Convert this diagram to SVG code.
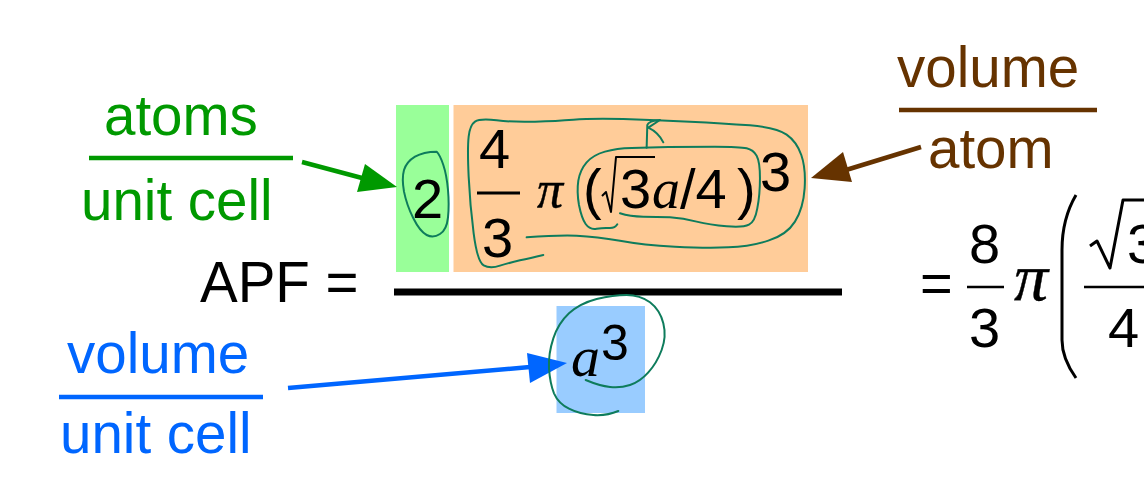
<svg xmlns="http://www.w3.org/2000/svg" width="1144" height="495" viewBox="0 0 1144 495">
<style>
text{font-family:"Liberation Sans",Arial,sans-serif;font-size:56px;fill:#000}
.label{font-size:56.500px}
.it{font-family:"Liberation Serif","Times New Roman",serif;font-style:italic}
.pi{stroke:#000;stroke-width:.4}
.g{fill:#009900}.b{fill:#0066ff}.br{fill:#663300}
.ink{fill:none;stroke:#0e7c5c;stroke-width:6;stroke-linecap:round;stroke-linejoin:round}
.rule{fill:none;stroke-width:4.5}
.arrow{fill:none;stroke-width:4.5}
.m{fill:none;stroke:#000;stroke-linejoin:round}
</style>
<rect width="1144" height="495" fill="#fff"/>
<g id="highlight-atoms"><rect x="396" y="105" width="53" height="167" fill="#99ff99"/><text x="412" y="218">2</text></g>
<g id="highlight-volume-atom">
<rect x="453.500" y="105" width="354.500" height="167" fill="#ffcc99"/>
<text x="479" y="168">4</text><path class="m" stroke-width="3" d="M477 193H520"/><text x="482" y="257">3</text>
<text class="it pi" x="537" y="207" style="font-size:52px">π</text>
<text x="583" y="208">(</text>
<path class="m" stroke-width="2" d="M602 196L606 192L611 212L616 157H655"/>
<text x="620" y="208">3</text><text class="it" x="652" y="208">a</text><text x="680" y="208">/4</text><text x="737" y="208">)</text>
<text x="760" y="191">3</text>
</g>
<g id="highlight-cell"><rect x="556.500" y="306" width="88.500" height="107" fill="#99ccff"/><text class="it" x="571" y="376" style="font-size:58px">a</text><text x="601" y="360" style="font-size:50px">3</text></g>
<g id="apf"><text class="label" x="200" y="302">APF =</text><path class="m" stroke-width="7" d="M394 292H842"/></g>
<g id="label-atoms"><text class="g label" x="104" y="135">atoms</text><path class="rule" stroke="#009900" d="M89 158H293"/><text class="g label" x="81" y="220">unit cell</text></g>
<g id="label-volume-atom"><text class="br label" x="897" y="87">volume</text><path class="rule" stroke="#663300" d="M899 110H1097"/><text class="br label" x="928" y="168">atom</text></g>
<g id="label-volume-cell"><text class="b label" x="67" y="373">volume</text><path class="rule" stroke="#0066ff" d="M59 397H263"/><text class="b label" x="60" y="453">unit cell</text></g>
<g id="result">
<text x="920" y="302">=</text>
<text x="969" y="263">8</text><path class="m" stroke-width="2.500" d="M967 287H1004"/><text x="969" y="347">3</text>
<text class="it pi" x="1014" y="300" style="font-size:68px">π</text>
<path class="m" stroke-width="3" d="M1076 195C1066 212 1062 228 1062 250V340C1062 352 1066 364 1076 378"/>
<path class="m" stroke-width="3" d="M1090 246L1097 241L1110 268L1123 200H1144"/>
<text x="1127" y="263">3</text><path class="m" stroke-width="2.500" d="M1084 287H1144"/><text x="1108" y="347">4</text>
</g>
<g id="connectors">
<path class="arrow" d="M302 162L362 178" stroke="#009900"/><path d="M397 187L365 164L357 192Z" fill="#009900"/>
<path class="arrow" d="M921 147L846 170" stroke="#663300"/><path d="M811 178L843 152L852 182Z" fill="#663300"/>
<path class="arrow" d="M288 388L530 367" stroke="#0066ff"/><path d="M567 363L527 353L530 383Z" fill="#0066ff"/>
</g>
<g id="ink-annotations">
<g transform="translate(390 95) scale(.3333)">
<path class="ink" d="M410 427Q500 420 560 422Q620 425 690 437Q760 450 855 455Q950 460 1015 457Q1080 455 1135 437Q1190 420 1215 380Q1240 340 1244 280Q1248 220 1234 180Q1220 140 1190 119Q1160 98 1080 91Q1000 85 900 80Q800 75 700 72Q600 70 550 74Q500 78 435 80Q370 82 320 76Q270 70 255 80Q240 90 236 125Q232 160 236 245Q240 330 251 415Q262 500 281 511Q300 522 330 512Q360 503 390 496Q420 490 460 480"/>
<path class="ink" d="M690 355Q720 365 760 365Q800 365 840 367Q880 370 920 380Q960 390 1010 394Q1060 398 1077 389Q1095 380 1102 340Q1110 300 1110 250Q1110 200 1100 182Q1090 165 1070 160Q1050 155 975 155Q900 155 835 156Q770 158 725 159Q680 160 645 170Q610 180 590 202Q570 225 565 257Q560 290 567 330Q575 370 587 387Q600 405 620 401Q640 398 657 399Q675 400 682 388"/>
<path class="ink" d="M770 158L772 90Q775 78 810 75L775 98Q805 112 820 142"/>
<path class="ink" d="M140 170Q100 170 75 185Q50 200 42 225Q35 250 42 290Q50 330 70 370Q90 410 110 420Q130 430 150 417Q170 405 174 367Q178 330 174 285Q170 240 160 210Q150 180 140 170Z"/>
</g>
<g transform="translate(500 280) scale(.3333)">
<path class="ink" d="M257 300Q300 318 330 321Q360 325 390 315Q420 305 445 277Q470 250 485 210Q500 170 490 130Q480 90 450 67Q420 45 380 45Q340 45 290 57Q240 70 207 100Q175 130 160 175Q145 220 147 265Q150 310 162 340Q175 370 207 386Q240 403 280 405Q320 408 355 393"/>
</g>
</g>
</svg>
